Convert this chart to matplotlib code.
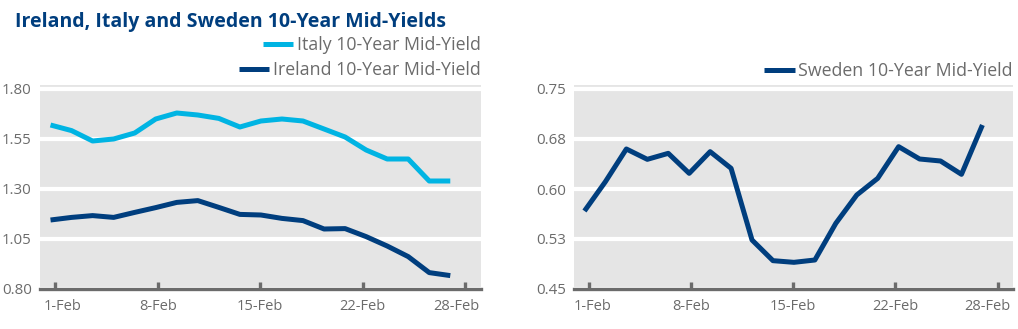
import numpy as np
import matplotlib
matplotlib.use("Agg")
import matplotlib.pyplot as plt
from matplotlib.transforms import ScaledTranslation

# data (20 trading days in February)
days = np.arange(20)
tick_labels = ["1-Feb", "8-Feb", "15-Feb", "22-Feb", "28-Feb"]

italy = [1.62, 1.592, 1.54, 1.55, 1.58, 1.65, 1.68, 1.67, 1.653, 1.61,
         1.64, 1.65, 1.64, 1.60, 1.56, 1.495, 1.45, 1.45, 1.34, 1.34]
ireland = [1.145, 1.158, 1.167, 1.158, 1.183, 1.207, 1.233, 1.242, 1.208, 1.173,
           1.17, 1.153, 1.142, 1.10, 1.102, 1.062, 1.015, 0.962, 0.882, 0.867]
sweden = [0.567, 0.611, 0.66, 0.6445, 0.6535, 0.6235, 0.656, 0.631, 0.5235, 0.4925,
          0.49, 0.4935, 0.5485, 0.591, 0.616, 0.6635, 0.645, 0.642, 0.622, 0.696]

left_yticks = [0.80, 1.05, 1.30, 1.55, 1.80]
right_yticks = [0.45, 0.525, 0.60, 0.675, 0.75]
right_ylabels = ["0.45", "0.53", "0.60", "0.68", "0.75"]

NAVY = "#003E7E"
LIGHT = "#00B4E3"
GREY_TXT = "#6B6B6B"
BG = "#E5E5E5"

plt.rcParams["font.family"] = ["Open Sans", "DejaVu Sans"]

fig = plt.figure(figsize=(10.18, 3.29), dpi=100)
ax1 = fig.add_axes([40 / 1018, 1 - 289 / 329, 441 / 1018, 204 / 329])
ax2 = fig.add_axes([574 / 1018, 1 - 289 / 329, 439 / 1018, 204 / 329])


def style(ax, yticks, ylabels, ylim, first_dx, last_dx):
    ax.set_facecolor(BG)
    ax.set_xlim(-0.5, 20.46)
    ax.set_ylim(*ylim)
    ax.set_yticks(yticks)
    ax.set_yticklabels(ylabels)
    ax.set_xticks(np.linspace(0.22, 19.72, 5))
    ax.set_xticklabels(tick_labels)
    for s in ["top", "right", "left"]:
        ax.spines[s].set_visible(False)
    ax.spines["bottom"].set_color(GREY_TXT)
    ax.spines["bottom"].set_linewidth(2.4)
    ax.tick_params(axis="x", direction="in", length=5, width=2.4, color=GREY_TXT,
                   labelcolor=GREY_TXT, labelsize=10.5, pad=7)
    ax.tick_params(axis="y", length=0, labelcolor=GREY_TXT, labelsize=10.8, pad=6)
    ax.grid(axis="y", color="white", linewidth=3)
    ax.set_axisbelow(True)
    ax.xaxis.set_zorder(2)  # x ticks above the white gridlines
    # nudge the end labels inwards like the original
    labs = ax.get_xticklabels()
    for lab, dx in ((labs[0], first_dx), (labs[-1], last_dx)):
        lab.set_transform(lab.get_transform() + ScaledTranslation(dx / 100, 0, fig.dpi_scale_trans))


style(ax1, left_yticks, ["%.2f" % v for v in left_yticks], (0.80, 1.82), 7, -9)
style(ax2, right_yticks, right_ylabels, (0.45, 0.756), 4, -10)

l_it, = ax1.plot(days, italy, color=LIGHT, lw=3.6, solid_capstyle="butt", zorder=3)
l_ir, = ax1.plot(days, ireland, color=NAVY, lw=3.6, solid_capstyle="butt", zorder=3)
l_sw, = ax2.plot(days, sweden, color=NAVY, lw=3.6, solid_capstyle="butt", zorder=3)

leg_kw = dict(loc="center right", frameon=False, fontsize=12.8, labelcolor=GREY_TXT,
              handlelength=1.7, handletextpad=0.22, borderpad=0, borderaxespad=0)
lg1 = ax1.legend([l_it], ["Italy 10-Year Mid-Yield"], bbox_to_anchor=(1.0, 1 + 40 / 204), **leg_kw)
ax1.add_artist(lg1)
ax1.legend([l_ir], ["Ireland 10-Year Mid-Yield"], bbox_to_anchor=(1.0, 1 + 15 / 204), **leg_kw)
ax2.legend([l_sw], ["Sweden 10-Year Mid-Yield"], bbox_to_anchor=(1.0, 1 + 14 / 204), **leg_kw)

fig.text(15 / 1018, 1 - 22 / 329, "Ireland, Italy and Sweden 10-Year Mid-Yields",
         color=NAVY, fontsize=14, fontweight="bold", va="center", ha="left")

fig.savefig("out.png", dpi=100)
